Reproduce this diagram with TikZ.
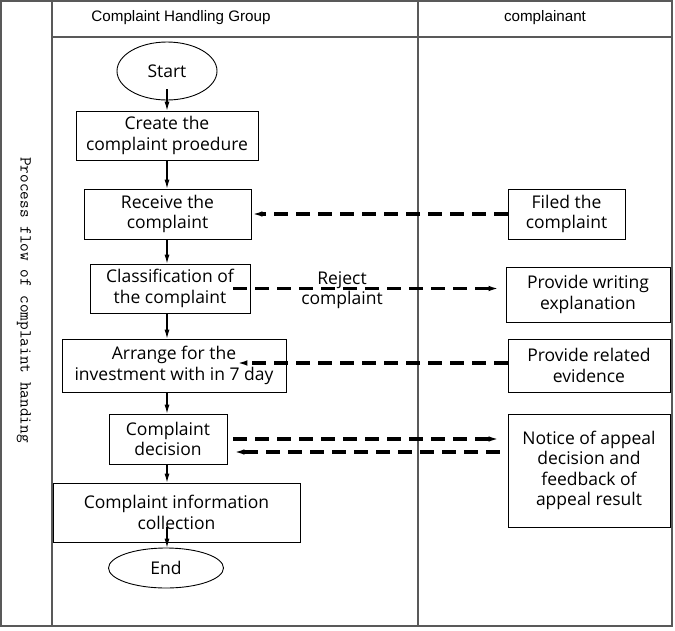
\documentclass[tikz,border=0pt]{standalone}
\usepackage{fontspec}
\setmainfont{Open Sans}
\newfontfamily\hdrfont{Liberation Sans}
\newfontfamily\vfont{Latin Modern Mono}
\usetikzlibrary{arrows.meta,calc,shapes.geometric}
\begin{document}
\begin{tikzpicture}[x=1pt,y=1pt,
  frameline/.style={draw=black!65, line width=1.2pt},
  box/.style={draw=black, line width=0.9pt, rectangle, align=center, inner sep=0pt,
    font=\fontsize{17.5}{20.5}\selectfont},
  oval/.style={draw=black, line width=0.9pt, ellipse, inner sep=0pt,
    font=\fontsize{17.5}{20.5}\selectfont},
  flow/.style={-{Latex[length=9pt,width=5pt]}, line width=1.1pt},
  dasharrow/.style={-{Latex[length=11pt,width=5.5pt]}, line width=3.2pt, dash pattern=on 14pt off 8pt},
  hdr/.style={font=\hdrfont\fontsize{15.2}{17}\selectfont},
  lbl/.style={font=\fontsize{17.5}{20.5}\selectfont, align=center, inner sep=0pt}
]
\useasboundingbox (0,0) rectangle (675,-630);
% frame
\draw[frameline] (1,-1) rectangle (672,-626);
\draw[frameline] (52,-1) -- (52,-626);
\draw[frameline] (418,-1) -- (418,-626);
\draw[frameline] (52,-37) -- (672,-37);
% headers
\node[hdr] (h1) at (181,-18) {Complaint Handling Group};
\node[hdr] (h2) at (545,-18) {complainant};
\node[rotate=-90, font=\vfont\fontsize{16.8}{18}\selectfont] (title) at (24,-300) {Process flow of complaint handing};
% left lane
\node[oval, minimum width=100pt, minimum height=58pt] (start) at (167,-71) {Start};
\node[box, minimum width=182pt, minimum height=49pt] (create) at (167,-135.5) {Create the\\complaint proedure};
\node[box, minimum width=167pt, minimum height=50pt] (receive) at (167.5,-214) {Receive the\\complaint};
\node[box, minimum width=160pt, minimum height=49pt] (class) at (170,-288.5) {Classification of\\the complaint};
\node[box, minimum width=224pt, minimum height=53pt] (arrange) at (174,-365.5) {Arrange for the\\investment with in 7 day};
\node[box, minimum width=118pt, minimum height=50pt] (decision) at (168,-439) {Complaint\\decision};
\node[box, minimum width=247pt, minimum height=59pt] (info) at (176.5,-512.5) {Complaint information\\collection};
\node[oval, minimum width=115pt, minimum height=40pt] (end) at (166,-568) {End};
% right lane
\node[box, minimum width=117pt, minimum height=50pt] (filed) at (566.5,-214) {Filed the\\complaint};
\node[box, minimum width=164pt, minimum height=55pt] (writing) at (588,-294.5) {Provide writing\\explanation};
\node[box, minimum width=162pt, minimum height=53pt] (evidence) at (589,-365.5) {Provide related\\evidence};
\node[box, minimum width=162pt, minimum height=113pt] (notice) at (589,-470.5) {Notice of appeal\\decision and\\feedback of\\appeal result};
% solid flow
\draw[flow] ($(start.south)+(0,11)$) -- (create.north -| start);
\draw[flow] (create.south -| start) -- (receive.north -| start);
\draw[flow] (receive.south -| start) -- (class.north -| start);
\draw[flow] (class.south -| start) -- (arrange.north -| start);
\draw[flow] (arrange.south -| start) -- (decision.north -| start);
\draw[flow] (decision.south -| start) -- (info.north -| start);
\draw[flow] ($(info.south -| start)+(0,15)$) -- (end.north -| start);
% dashed exchanges
\draw[dasharrow] (filed.west) -- (receive.east);
\draw[dasharrow] ($(class.east)+(-17,0)$) -- ($(class.east -| writing.west)+(-6,0)$);
\node[lbl] (reject) at (342,-290) {Reject\\complaint};
\draw[dasharrow] ($(evidence.west)+(0,2.5)$) -- ($(arrange.east)+(-50,2.5)$);
\draw[dasharrow] ($(decision.east)+(6,0)$) -- ($(decision.east -| notice.west)+(-8,0)$);
\draw[dasharrow] ($(decision.east -| notice.west)+(-8,-13)$) -- ($(decision.east)+(6,-13)$);
\end{tikzpicture}
\end{document}
